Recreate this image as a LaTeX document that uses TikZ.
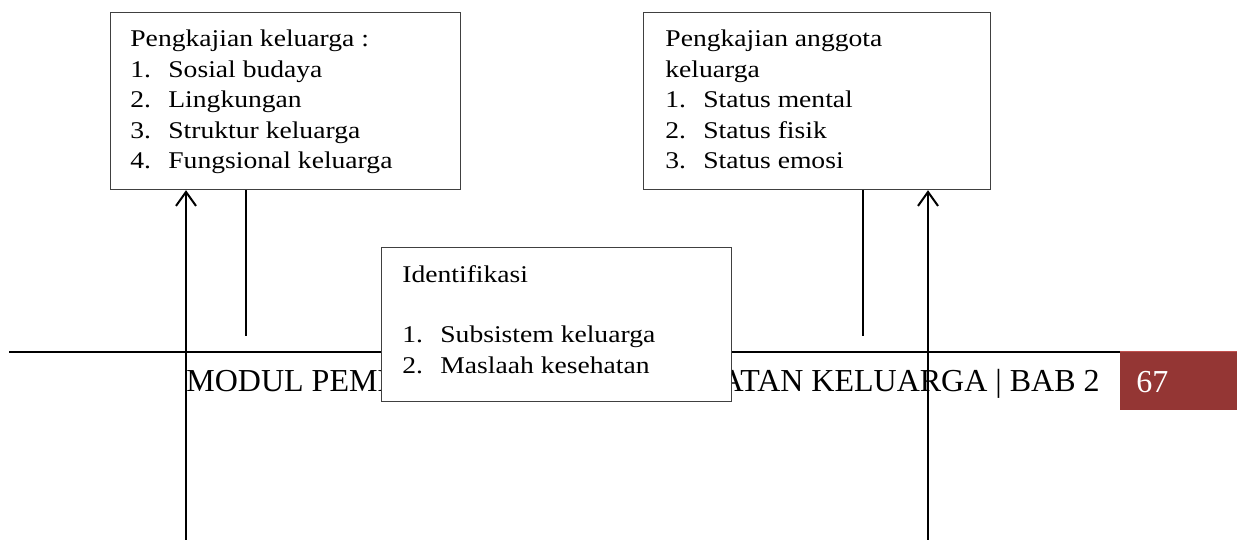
\documentclass[tikz,border=0pt]{standalone}
\usepackage{fontspec}
\setmainfont{Liberation Serif}
\newfontfamily\boxfont[FakeStretch=1.15]{Liberation Serif}
\usepackage{tikz}
\usetikzlibrary{arrows.meta, calc, positioning}

\definecolor{pagered}{HTML}{943634}
\definecolor{pageredtop}{HTML}{C0504D}

\newcommand{\itm}[2]{\makebox[19pt][l]{#1}#2}

\tikzset{
    box/.style={draw=black!75, line width=0.6pt, fill=white, anchor=north west, inner sep=0pt},
    boxtext/.style={anchor=base west, inner sep=0pt, font=\boxfont\fontsize{12}{15.2}\selectfont},
    feeder/.style={line width=1pt, -{Straight Barb[length=7pt,width=10pt,line width=1pt]}},
    stub/.style={line width=0.8pt},
}

\begin{document}
\begin{tikzpicture}[x=0.5pt, y=-0.5pt]
    \useasboundingbox (0,0) rectangle (1237,540);

    % footer of the page
    \coordinate (ruleL) at (9,352);
    \node[fill=pagered, anchor=north west, minimum width=58.5pt, minimum height=29.5pt, inner sep=0pt] (pagetab) at (1120,351) {};
    \draw[pageredtop, line width=0.6pt] ($(pagetab.north west)+(0,0.6)$) -- ($(pagetab.north east)+(0,0.6)$);
    \draw[line width=0.9pt] (ruleL) -- (ruleL -| pagetab.west);
    \node[anchor=base west, inner sep=0pt, font=\fontsize{16}{19}\selectfont] (footer) at (186,391) {MODUL PEMBELAJARAN KEPERAWATAN KELUARGA | BAB 2};
    \node[anchor=base west, inner sep=0pt, text=white, font=\fontsize{16}{19}\selectfont] (pagenum) at (1136,392) {67};

    % boxes
    \node[box, minimum width=175pt, minimum height=88.5pt] (keluarga) at (110,12) {};
    \node[boxtext] (keluargatxt) at (130,47) {\begin{tabular}[t]{@{}l@{}}
        Pengkajian keluarga :\\
        \itm{1.}{Sosial budaya}\\
        \itm{2.}{Lingkungan}\\
        \itm{3.}{Struktur keluarga}\\
        \itm{4.}{Fungsional keluarga}
    \end{tabular}};

    \node[box, minimum width=173.5pt, minimum height=88.5pt] (anggota) at (643,12) {};
    \node[boxtext] (anggotatxt) at (665,47) {\begin{tabular}[t]{@{}l@{}}
        Pengkajian anggota\\
        keluarga\\
        \itm{1.}{Status mental}\\
        \itm{2.}{Status fisik}\\
        \itm{3.}{Status emosi}
    \end{tabular}};

    \node[box, minimum width=175pt, minimum height=77pt] (identifikasi) at (381,247) {};
    \node[boxtext] (identifikasitxt) at (402,282) {\begin{tabular}[t]{@{}l@{}}
        Identifikasi\\
        \\
        \itm{1.}{Subsistem keluarga}\\
        \itm{2.}{Maslaah kesehatan}
    \end{tabular}};

    % connectors
    \coordinate (foot1) at (186,540);
    \coordinate (foot2) at (928,540);
    \coordinate (stub1) at (246,336);
    \coordinate (stub2) at (863,336);

    \draw[stub] (stub1 |- keluarga.south) -- (stub1);
    \draw[stub] (stub2 |- anggota.south) -- (stub2);
    \draw[feeder] (foot1) -- (foot1 |- keluarga.south);
    \draw[feeder] (foot2) -- (foot2 |- anggota.south);
\end{tikzpicture}
\end{document}
